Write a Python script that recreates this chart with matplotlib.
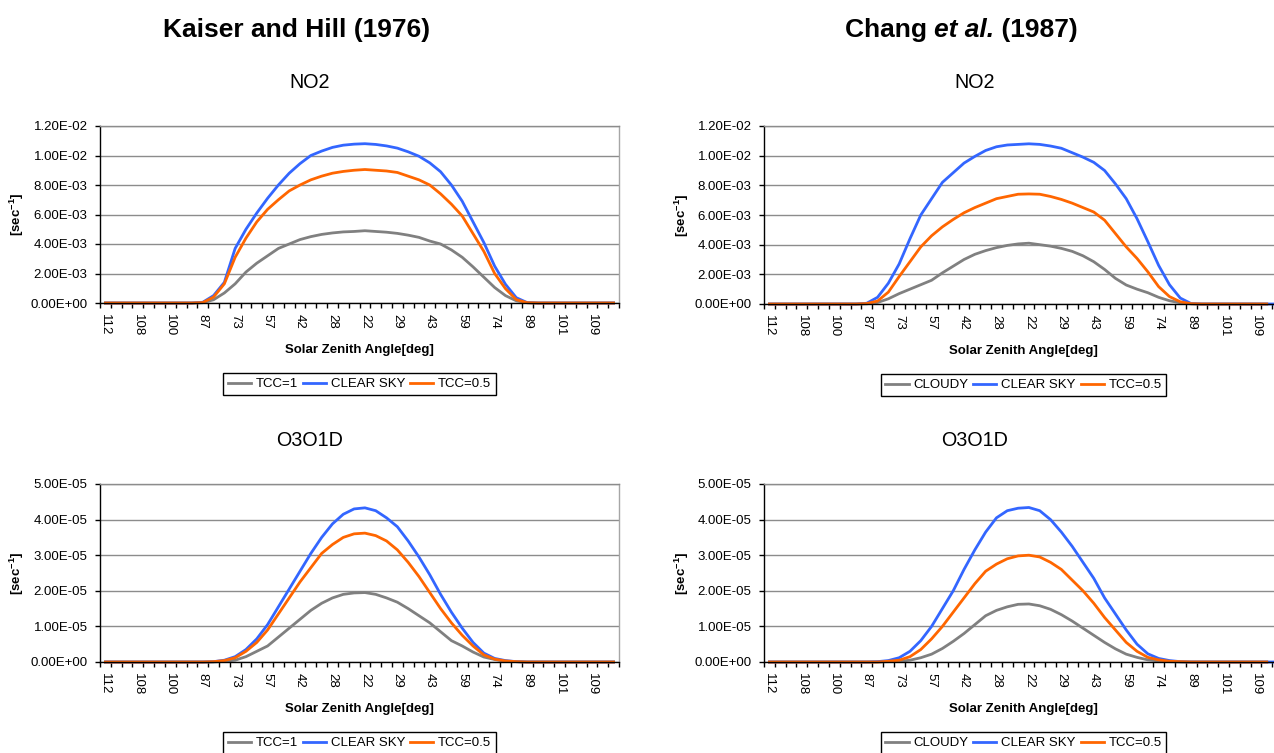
import numpy as np
import matplotlib
matplotlib.use("Agg")
import matplotlib.pyplot as plt
from matplotlib.ticker import FixedLocator, FuncFormatter, NullFormatter

plt.rcParams['font.family'] = ['Liberation Sans', 'DejaVu Sans']
plt.rcParams['mathtext.fontset'] = 'custom'
plt.rcParams['mathtext.rm'] = 'Liberation Sans'
plt.rcParams['mathtext.bf'] = 'Liberation Sans:bold'
plt.rcParams['mathtext.it'] = 'Liberation Sans:italic'

# ---------------- data ----------------
n_cat = 48
x_labels = ["112", "108", "100", "87", "73", "57", "42", "28", "22",
            "29", "43", "59", "74", "89", "101", "109"]
label_step = 3

Z9 = [0.0] * 9
Z8 = [0.0] * 8

# Kaiser and Hill (1976) - NO2  [x1e-3 sec^-1]
kh_no2_tcc1 = np.array(Z9 + [0.02, 0.22, 0.68, 1.3, 2.1, 2.7, 3.2, 3.7, 4.0, 4.3, 4.5, 4.65, 4.75, 4.82,
                             4.85, 4.9, 4.85, 4.8, 4.72, 4.6, 4.45, 4.2, 4.0, 3.6, 3.1, 2.45, 1.75, 1.05,
                             0.5, 0.15, 0.02] + Z8) * 1e-3
kh_no2_clear = np.array(Z9 + [0.05, 0.5, 1.4, 3.7, 5.0, 6.1, 7.1, 8.0, 8.8, 9.45, 10.0, 10.3, 10.55, 10.7,
                              10.77, 10.8, 10.75, 10.65, 10.5, 10.25, 9.95, 9.5, 8.9, 8.0, 6.9, 5.5, 4.1,
                              2.5, 1.27, 0.36, 0.03] + Z8) * 1e-3
kh_no2_tcc05 = np.array(Z9 + [0.03, 0.4, 1.3, 3.1, 4.4, 5.5, 6.35, 7.0, 7.6, 8.0, 8.35, 8.6, 8.8, 8.92,
                              9.0, 9.05, 9.0, 8.95, 8.85, 8.6, 8.35, 8.0, 7.4, 6.7, 5.9, 4.7, 3.5, 2.0,
                              0.97, 0.23, 0.02] + Z8) * 1e-3

# Chang et al. (1987) - NO2  [x1e-3 sec^-1]
ch_no2_cloudy = np.array(Z9 + [0.01, 0.1, 0.35, 0.7, 1.0, 1.3, 1.6, 2.1, 2.55, 3.0, 3.35, 3.6, 3.8, 3.95,
                               4.05, 4.1, 4.0, 3.9, 3.75, 3.55, 3.25, 2.85, 2.33, 1.73, 1.28, 1.0, 0.76,
                               0.45, 0.22, 0.08, 0.01] + [0.0] * 7 + [np.nan]) * 1e-3
ch_no2_clear = np.array(Z9 + [0.05, 0.45, 1.4, 2.7, 4.4, 6.0, 7.1, 8.2, 8.85, 9.5, 9.95, 10.35, 10.6,
                              10.72, 10.76, 10.8, 10.76, 10.65, 10.5, 10.2, 9.9, 9.55, 9.0, 8.1, 7.1,
                              5.75, 4.2, 2.6, 1.3, 0.4, 0.03] + Z8) * 1e-3
ch_no2_tcc05 = np.array(Z9 + [0.03, 0.2, 0.8, 1.85, 2.85, 3.85, 4.6, 5.2, 5.7, 6.15, 6.5, 6.8, 7.1, 7.25,
                              7.4, 7.42, 7.4, 7.25, 7.05, 6.8, 6.5, 6.2, 5.65, 4.75, 3.85, 3.07, 2.17,
                              1.17, 0.5, 0.15, 0.02] + [0.0] * 7 + [np.nan]) * 1e-3

# Kaiser and Hill (1976) - O3O1D  [x1e-5 sec^-1]
kh_o3_tcc1 = np.array(Z9 + [0.0, 0.0, 0.02, 0.05, 0.15, 0.3, 0.45, 0.7, 0.95, 1.2, 1.45, 1.65, 1.8, 1.9,
                            1.94, 1.95, 1.9, 1.8, 1.68, 1.5, 1.3, 1.1, 0.85, 0.6, 0.45, 0.28, 0.14, 0.07,
                            0.02, 0.01, 0.0] + Z8) * 1e-5
kh_o3_clear = np.array(Z9 + [0.0, 0.01, 0.05, 0.15, 0.35, 0.65, 1.05, 1.55, 2.05, 2.55, 3.05, 3.5, 3.88,
                             4.15, 4.3, 4.33, 4.25, 4.05, 3.8, 3.4, 2.95, 2.45, 1.9, 1.4, 0.95, 0.55, 0.25,
                             0.1, 0.04, 0.01, 0.0] + Z8) * 1e-5
kh_o3_tcc05 = np.array(Z9 + [0.0, 0.01, 0.04, 0.12, 0.3, 0.55, 0.9, 1.35, 1.8, 2.25, 2.65, 3.05, 3.3,
                             3.5, 3.6, 3.62, 3.55, 3.4, 3.15, 2.8, 2.4, 1.95, 1.5, 1.1, 0.75, 0.45, 0.2,
                             0.08, 0.03, 0.01, 0.0] + Z8) * 1e-5

# Chang et al. (1987) - O3O1D  [x1e-5 sec^-1]
ch_o3_cloudy = np.array(Z9 + [0.0, 0.0, 0.01, 0.02, 0.05, 0.12, 0.22, 0.38, 0.58, 0.8, 1.05, 1.3, 1.45,
                              1.55, 1.62, 1.63, 1.58, 1.48, 1.33, 1.15, 0.95, 0.75, 0.55, 0.37, 0.22,
                              0.13, 0.06, 0.03, 0.01, 0.0, 0.0] + [0.0] * 7 + [np.nan]) * 1e-5
ch_o3_clear = np.array(Z9 + [0.0, 0.01, 0.04, 0.12, 0.3, 0.6, 1.0, 1.5, 2.0, 2.6, 3.15, 3.65, 4.05, 4.25,
                             4.32, 4.34, 4.25, 4.0, 3.65, 3.25, 2.8, 2.35, 1.8, 1.35, 0.9, 0.5, 0.23, 0.1,
                             0.04, 0.01, 0.0] + Z8) * 1e-5
ch_o3_tcc05 = np.array(Z9 + [0.0, 0.0, 0.02, 0.05, 0.15, 0.35, 0.65, 1.0, 1.4, 1.8, 2.2, 2.55, 2.75, 2.9,
                             2.98, 3.0, 2.95, 2.8, 2.6, 2.3, 2.0, 1.65, 1.25, 0.9, 0.55, 0.3, 0.13, 0.06,
                             0.02, 0.01, 0.0] + [0.0] * 7 + [np.nan]) * 1e-5

no2_yticks = [0, 0.002, 0.004, 0.006, 0.008, 0.010, 0.012]
o3_yticks = [0, 1e-5, 2e-5, 3e-5, 4e-5, 5e-5]

GREY = '#808080'
BLUE = '#3366FF'
ORANGE = '#FF6600'

# ---------------- figure ----------------
W, H = 1274, 753
fig = plt.figure(figsize=(W / 100, H / 100), dpi=100)
FS = 9.5


def rect(x0, y0, x1, y1):
    return [x0 / W, 1 - y1 / H, (x1 - x0) / W, (y1 - y0) / H]


def fx(x):
    return x / W


def fy(y):
    return 1 - y / H


def draw_panel(box, series, labels, yticks):
    ax = fig.add_axes(rect(*box))
    x = np.arange(n_cat)
    colors = [GREY, BLUE, ORANGE]
    handles = []
    for s, c, lab in zip(series, colors, labels):
        h, = ax.plot(x, s, color=c, lw=2.0, label=lab, solid_joinstyle='round', clip_on=False)
        handles.append(h)
    ax.set_xlim(-0.5, n_cat - 0.5)
    ax.set_ylim(yticks[0], yticks[-1])
    ax.set_yticks(yticks)
    ax.yaxis.set_major_formatter(FuncFormatter(lambda v, p: f"{v:.2E}"))
    ax.grid(axis='y', color='#8c8c8c', lw=1.0)
    ax.set_axisbelow(True)
    # category boundaries -> major ticks, labels at centers (minor)
    ax.xaxis.set_major_locator(FixedLocator(np.arange(n_cat + 1) - 0.5))
    ax.xaxis.set_major_formatter(NullFormatter())
    ax.xaxis.set_minor_locator(FixedLocator(np.arange(0, n_cat, label_step)))
    ax.set_xticklabels(x_labels, minor=True)
    ax.tick_params(axis='x', which='major', direction='out', length=3.5, width=1, color='black')
    ax.tick_params(axis='x', which='minor', length=0, pad=8.0, labelsize=FS, labelrotation=-90)
    ax.tick_params(axis='y', direction='out', length=3.5, width=1, pad=5.5, labelsize=FS)
    for lab in ax.get_xticklabels(minor=True):
        lab.set_rotation(-90)
        lab.set_va('top')
        lab.set_ha('center')
    ax.spines['left'].set_color('black')
    ax.spines['bottom'].set_color('black')
    ax.spines['top'].set_color('#8c8c8c')
    ax.spines['right'].set_color('#a6a6a6')
    for sp in ax.spines.values():
        sp.set_linewidth(1.0)
    return ax, handles


def add_legend(handles, cx, cy):
    leg = fig.legend(handles=handles, loc='center', bbox_to_anchor=(fx(cx), fy(cy)),
                     ncol=3, fontsize=FS, frameon=True, fancybox=False, edgecolor='black',
                     framealpha=1.0, handlelength=1.75, handletextpad=0.35, columnspacing=0.4,
                     borderpad=0.35, borderaxespad=0)
    leg.get_frame().set_linewidth(1.0)
    return leg


panels = [
    ((100, 126, 619, 303), [kh_no2_tcc1, kh_no2_clear, kh_no2_tcc05], ['TCC=1', 'CLEAR SKY', 'TCC=0.5'], no2_yticks,
     310, 83, 'NO2', 17),
    ((764, 126, 1283, 304), [ch_no2_cloudy, ch_no2_clear, ch_no2_tcc05], ['CLOUDY', 'CLEAR SKY', 'TCC=0.5'], no2_yticks,
     975, 83, 'NO2', 682),
    ((100, 484, 619, 662), [kh_o3_tcc1, kh_o3_clear, kh_o3_tcc05], ['TCC=1', 'CLEAR SKY', 'TCC=0.5'], o3_yticks,
     310, 441, 'O3O1D', 17),
    ((764, 484, 1283, 662), [ch_o3_cloudy, ch_o3_clear, ch_o3_tcc05], ['CLOUDY', 'CLEAR SKY', 'TCC=0.5'], o3_yticks,
     975, 441, 'O3O1D', 682),
]

for box, series, labels, yt, tx, ty, sub, ylx in panels:
    ax, handles = draw_panel(box, series, labels, yt)
    x0, y0, x1, y1 = box
    cx = (x0 + x1) / 2
    cy = (y0 + y1) / 2
    fig.text(fx(tx), fy(ty), sub, fontsize=14.2, ha='center', va='center')
    fig.text(fx(cx), fy(y1 + 47), 'Solar Zenith Angle[deg]', fontsize=FS, fontweight='bold',
             ha='center', va='center')
    fig.text(fx(ylx), fy(cy), r'[sec$^{\mathbf{-1}}$]', fontsize=FS, fontweight='bold',
             rotation=90, ha='center', va='center')
    add_legend(handles, cx, y1 + 81)

# main titles
TFS = 19.0
fig.text(fx(163), fy(30), 'Kaiser and Hill (1976)', fontsize=TFS, fontweight='bold',
         ha='left', va='center')

renderer = fig.canvas.get_renderer()
xpos = 845
for piece, style in [('Chang ', 'normal'), ('et al.', 'italic'), (' (1987)', 'normal')]:
    t = fig.text(fx(xpos), fy(30), piece, fontsize=TFS, fontweight='bold', fontstyle=style,
                 ha='left', va='center')
    bb = t.get_window_extent(renderer=renderer)
    xpos += bb.width

fig.savefig('out.png', dpi=100)
